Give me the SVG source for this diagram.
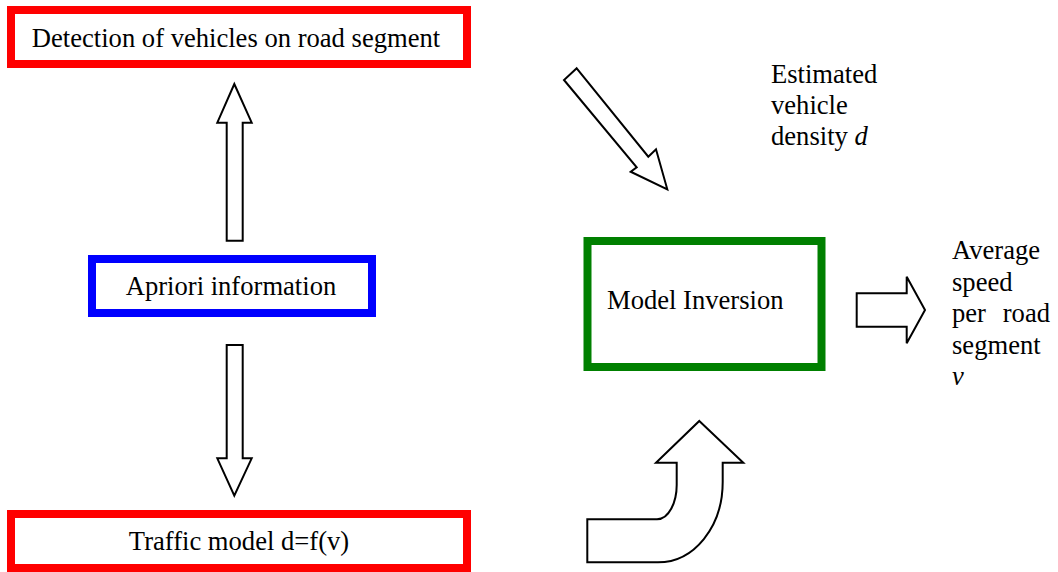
<svg xmlns="http://www.w3.org/2000/svg" width="1058" height="572" viewBox="0 0 1058 572">
  <style>
    .box { fill: #ffffff; stroke-width: 8; }
    .red { stroke: #ff0000; }
    .blue { stroke: #0000ff; }
    .green { stroke: #008000; }
    .mid { text-anchor: middle; }
    .it { font-style: italic; }
    .arrow { fill: #ffffff; stroke: #000000; stroke-width: 2; stroke-linejoin: miter; }
  </style>
  <rect width="1058" height="572" fill="#ffffff"/>

  <g font-family="Liberation Serif, Times New Roman, serif" font-size="26.6" fill="#000000">
  <g id="detection">
    <rect class="box red" x="11" y="10" width="456" height="54"/>
    <text class="mid" x="236" y="47">Detection of vehicles on road segment</text>
  </g>

  <g id="apriori">
    <rect class="box blue" x="92" y="259" width="280" height="54"/>
    <text class="mid" x="231" y="295">Apriori information</text>
  </g>

  <g id="traffic-model">
    <rect class="box red" x="11" y="514" width="456" height="54"/>
    <text class="mid" x="239" y="550">Traffic model d=f(v)</text>
  </g>

  <g id="model-inversion">
    <rect class="box green" x="587.5" y="241" width="234" height="126"/>
    <text x="607" y="309">Model Inversion</text>
  </g>

  <g id="density-label">
    <text x="771" y="83">Estimated</text>
    <text x="771" y="114">vehicle</text>
    <text x="771" y="145">density <tspan class="it">d</tspan></text>
  </g>

  <g id="speed-label">
    <text x="952" y="259">Average</text>
    <text x="952" y="290.5">speed</text>
    <text x="952" y="322">per</text>
    <text x="1050" y="322" text-anchor="end">road</text>
    <text x="952" y="353.5">segment</text>
    <text class="it" x="952" y="385">v</text>
  </g>
  </g>

  <g id="connectors">
    <!-- apriori up to detection -->
    <polygon class="arrow" points="234.3,84 251.7,122.7 242.7,122.7 242.7,240.7 226.7,240.7 226.7,122.7 217.3,122.7"/>
    <!-- apriori down to traffic model -->
    <polygon class="arrow" points="226.7,345 242.7,345 242.7,458.3 251.7,458.3 234.3,495.7 217.3,458.3 226.7,458.3"/>
    <!-- detection into model inversion -->
    <polygon class="arrow" points="576.7,68.3 648.3,156.7 656,149.3 667.3,189.3 630.7,171.7 636.7,167.3 564,80"/>
    <!-- traffic model into model inversion -->
    <path class="arrow" d="M699.3,421 L743.3,462.7 L722.7,462.7 L722.7,482 C722.7,527 694,562.3 658,562.3 L587.3,562.3 L587.3,519.3 L657,519.3 C669,519.3 676.7,502 676.7,485 L676.7,462.7 L656,462.7 Z"/>
    <!-- model inversion to speed output -->
    <polygon class="arrow" points="856.7,293.3 906.7,293.3 906.7,276.7 925,310 906.7,343.3 906.7,326.7 856.7,326.7"/>
  </g>
</svg>
